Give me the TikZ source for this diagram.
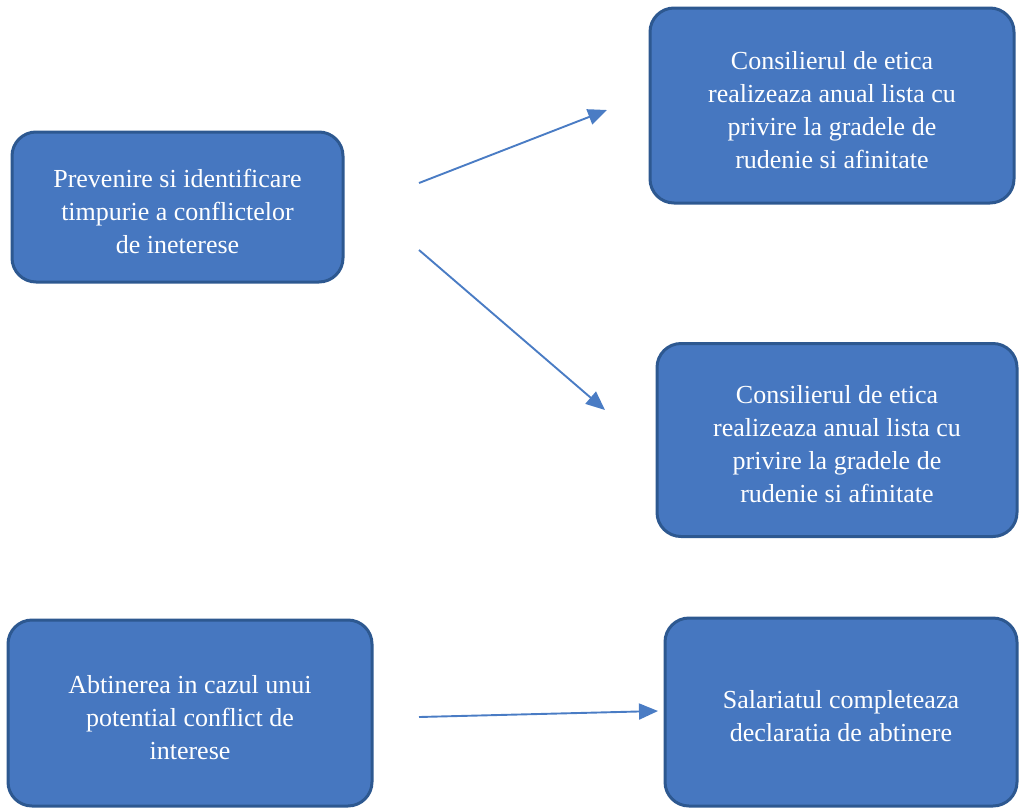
\documentclass[tikz,border=0pt]{standalone}
\usepackage{fontspec}
\setmainfont{Liberation Serif}
\usetikzlibrary{arrows.meta}
\definecolor{boxfill}{HTML}{4677C0}
\definecolor{boxline}{HTML}{2D5890}
\definecolor{arrowblue}{HTML}{4A7CC4}
\newcommand{\tstrut}{\rule{0pt}{27pt}}
\begin{document}
\begin{tikzpicture}[x=1pt,y=-1pt,
  box/.style={draw=boxline, line width=3pt, fill=boxfill, rounded corners=24pt,
    text=white, align=center, inner sep=0pt,
    font=\fontsize{26}{33}\selectfont},
  conn/.style={draw=arrowblue, line width=1.9pt,
    -{Triangle[length=19pt,width=16pt]}}]
\useasboundingbox (0,0) rectangle (1019,809);
\node[box, minimum width=331pt, minimum height=150pt] (prev) at (177.5,207)
  {\tstrut Prevenire si identificare\\timpurie a conflictelor\\de ineterese};
\node[box, minimum width=364pt, minimum height=195pt] (cons1) at (832,105.5)
  {\tstrut Consilierul de etica\\realizeaza anual lista cu\\privire la gradele de\\rudenie si afinitate};
\node[box, minimum width=360pt, minimum height=193pt] (cons2) at (837,440)
  {\tstrut Consilierul de etica\\realizeaza anual lista cu\\privire la gradele de\\rudenie si afinitate};
\node[box, minimum width=364pt, minimum height=186pt] (abt) at (190,713)
  {\tstrut Abtinerea in cazul unui\\potential conflict de\\interese};
\node[box, minimum width=352pt, minimum height=188pt] (sal) at (841,712)
  {\tstrut Salariatul completeaza\\declaratia de abtinere};
\coordinate (a1s) at (419,183);
\coordinate (a1e) at (607,110);
\coordinate (a2s) at (419,250);
\coordinate (a2e) at (605,410);
\coordinate (a3s) at (419,717);
\coordinate (a3e) at (658,711);
\draw[conn] (a1s) -- (a1e);
\draw[conn] (a2s) -- (a2e);
\draw[conn] (a3s) -- (a3e);
\end{tikzpicture}
\end{document}
